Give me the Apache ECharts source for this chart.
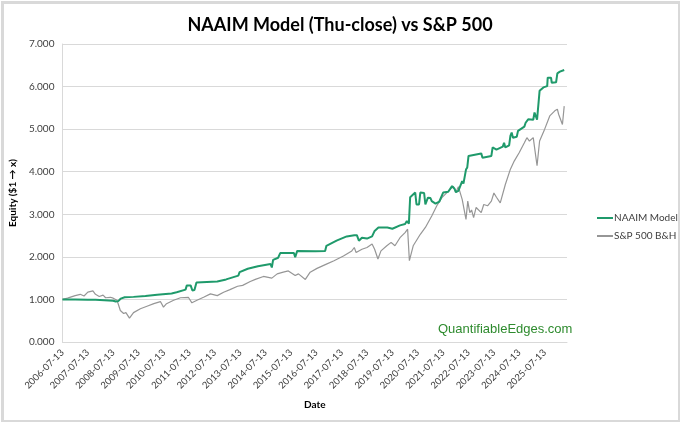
<!DOCTYPE html>
<html>
<head>
<meta charset="utf-8">
<script src="https://cdn.jsdelivr.net/npm/echarts@6/dist/echarts.min.js"></script>
<style>
html,body{margin:0;padding:0;background:#fff;}
#main{width:680px;height:422px;}
</style>
</head>
<body>
<div id="main"></div>
<script>
// x = years since 2006-07-13, y = equity
var startYear = 2006;
var tickSuffix = '-07-13';
var xMax = 19.88;

var naaimT = [0,0.5,1.0,1.3,1.35,2.0,2.1,2.2,2.3,2.45,2.8,3.27,3.73,4.3,4.5,4.85,4.9,5.05,5.12,5.2,5.28,6.1,6.45,6.5,6.93,6.98,7.3,7.7,8.2,8.25,8.3,8.5,8.58,9.12,9.17,9.25,9.96,10.0,10.35,10.4,10.8,11.2,11.5,11.6,11.68,11.8,12.0,12.2,12.3,12.45,12.8,13.0,13.3,13.5,13.57,13.65,13.7,13.9,13.95,14.05,14.1,14.25,14.3,14.4,14.5,14.55,14.7,14.85,15.0,15.2,15.35,15.45,15.5,15.6,15.75,15.8,15.85,15.9,15.95,16.0,16.5,16.55,16.9,16.95,17.1,17.35,17.4,17.45,17.6,17.65,17.7,17.75,17.9,17.95,18.2,18.25,18.35,18.55,18.6,18.65,18.7,18.75,18.8,18.95,19.1,19.12,19.25,19.28,19.45,19.5,19.6,19.77];
var naaimV = [1.00,1.00,0.99,0.99,0.97,0.97,0.95,0.96,1.02,1.05,1.06,1.08,1.11,1.14,1.17,1.23,1.33,1.33,1.21,1.22,1.40,1.42,1.47,1.50,1.56,1.64,1.72,1.78,1.83,1.75,1.93,1.98,2.09,2.09,1.99,2.14,2.13,2.12,2.14,2.26,2.38,2.48,2.51,2.51,2.38,2.45,2.43,2.48,2.61,2.69,2.69,2.66,2.74,2.77,2.84,2.78,3.40,3.51,3.23,3.23,3.51,3.50,3.23,3.39,3.38,3.31,3.25,3.30,3.51,3.53,3.66,3.60,3.52,3.55,3.78,3.72,3.70,4.05,4.10,4.37,4.43,4.33,4.37,4.57,4.52,4.59,4.68,4.57,4.62,4.84,4.92,4.80,4.82,4.96,5.06,5.15,5.23,5.22,5.39,5.39,5.22,5.25,5.90,5.98,6.01,6.21,6.21,6.09,6.10,6.31,6.35,6.39];

var spxT = [0,0.2,0.5,0.7,0.85,1.0,1.2,1.3,1.45,1.6,1.7,1.89,2.0,2.15,2.28,2.35,2.41,2.5,2.64,2.8,3.07,3.33,3.6,3.86,3.98,4.1,4.38,4.65,4.96,5.1,5.3,5.56,5.83,6.1,6.35,6.6,6.9,7.1,7.4,7.6,7.92,8.25,8.46,8.7,8.9,9.17,9.3,9.57,9.76,10.03,10.4,10.7,11.07,11.4,11.5,11.57,11.8,12.0,12.2,12.3,12.43,12.55,12.78,12.95,13.1,13.3,13.5,13.6,13.67,13.82,14.1,14.3,14.55,14.75,14.95,15.15,15.4,15.5,15.6,15.75,15.9,15.97,16.05,16.12,16.2,16.3,16.5,16.6,16.75,16.9,17.0,17.1,17.25,17.45,17.65,17.8,18.0,18.2,18.3,18.4,18.55,18.62,18.7,18.8,19.0,19.2,19.4,19.5,19.55,19.7,19.77];
var spxV = [1.00,1.03,1.09,1.12,1.08,1.17,1.20,1.12,1.07,1.10,1.04,1.05,1.03,0.98,0.74,0.76,0.67,0.69,0.56,0.69,0.78,0.84,0.90,0.95,0.82,0.90,0.98,1.04,1.05,0.92,0.98,1.05,1.13,1.09,1.17,1.23,1.31,1.33,1.42,1.47,1.54,1.50,1.60,1.64,1.67,1.56,1.60,1.47,1.64,1.73,1.83,1.91,2.02,2.14,2.22,2.10,2.18,2.22,2.30,2.18,1.95,2.14,2.26,2.34,2.26,2.45,2.57,2.65,1.91,2.26,2.53,2.69,2.96,3.20,3.39,3.51,3.66,3.51,3.65,3.35,2.88,3.31,3.04,3.10,2.92,3.16,3.04,3.23,3.20,3.31,3.50,3.40,3.27,3.70,4.06,4.25,4.45,4.68,4.80,4.72,4.80,4.49,4.14,4.72,5.00,5.31,5.43,5.47,5.35,5.11,5.54];

function pairs(t, v){
	var out = [];
	for(var i = 0;i<t.length;i++){
		out.push([t[i], v[i]]);
	}
	return out;
}

var myChart = echarts.init(document.getElementById('main'));
var font = 'Lato, "Open Sans", sans-serif';
var option = {
	animation: false,
	backgroundColor: '#fff',
	title: {
		text: 'NAAIM Model (Thu-close) vs S&P 500',
		left: 'center',
		top: 11,
		textStyle: {fontFamily: font, fontSize: 18, fontWeight: 'bold', color: '#000'}
	},
	legend: {
		orient: 'vertical',
		left: 592,
		top: 208,
		itemGap: 8,
		itemWidth: 16,
		itemHeight: 2,
		icon: 'rect',
		textStyle: {fontFamily: font, fontSize: 10, color: '#404040', padding: [0,0,0,-4]},
		data: ['NAAIM Model', 'S&P 500 B&H']
	},
	grid: {left: 62, top: 44, right: 113, bottom: 80},
	xAxis: {
		type: 'value',
		min: 0,
		max: xMax,
		interval: 1,
		name: 'Date',
		nameLocation: 'middle',
		nameGap: 58,
		nameTextStyle: {fontFamily: font, fontSize: 10, fontWeight: 'bold', color: '#000'},
		axisLine: {show: true, lineStyle: {color: '#d9d9d9'}},
		axisTick: {show: false},
		splitLine: {show: false},
		axisLabel: {
			rotate: 45,
			margin: 9,
			fontFamily: font,
			fontSize: 9.5,
			color: '#404040',
			showMaxLabel: false,
			formatter: function(v){
				if(Math.abs(v - Math.round(v)) > 0.001) return '';
				return (startYear + Math.round(v)) + tickSuffix;
			}
		}
	},
	yAxis: {
		type: 'value',
		min: 0,
		max: 7,
		interval: 1,
		name: 'Equity ($1 \u2192 x)',
		nameLocation: 'middle',
		nameGap: 37,
		nameTextStyle: {fontFamily: font, fontSize: 10, fontWeight: 'bold', color: '#000'},
		axisLine: {show: true, lineStyle: {color: '#d9d9d9'}},
		axisTick: {show: false},
		splitLine: {lineStyle: {color: '#d9d9d9'}},
		axisLabel: {
			fontFamily: font,
			fontSize: 10,
			color: '#404040',
			margin: 8,
			formatter: function(v){ return v.toFixed(3); }
		}
	},
	graphic: [
		{
			type: 'rect',
			left: 0, top: 0,
			shape: {x: 1, y: 1, width: 677, height: 419},
			style: {fill: 'none', stroke: '#d9d9d9', lineWidth: 3}
		},
		{
			type: 'text',
			left: 438,
			top: 323,
			style: {
				text: 'QuantifiableEdges.com',
				fontFamily: 'Liberation Sans, Arial, sans-serif',
				fontSize: 13,
				fill: '#2e8b2e',
				shadowBlur: 3,
				shadowColor: 'rgba(0,0,0,0.45)',
				shadowOffsetX: 1,
				shadowOffsetY: 2
			}
		}
	],
	series: [
		{
			name: 'NAAIM Model',
			type: 'line',
			data: pairs(naaimT, naaimV),
			showSymbol: false,
			symbol: 'none',
			color: '#1f9a6b',
			lineStyle: {width: 2, color: '#1f9a6b'},
			z: 3
		},
		{
			name: 'S&P 500 B&H',
			type: 'line',
			data: pairs(spxT, spxV),
			showSymbol: false,
			symbol: 'none',
			color: '#969696',
			lineStyle: {width: 1.2, color: '#969696'},
			z: 2
		}
	]
};
myChart.setOption(option);
</script>
</body>
</html>
